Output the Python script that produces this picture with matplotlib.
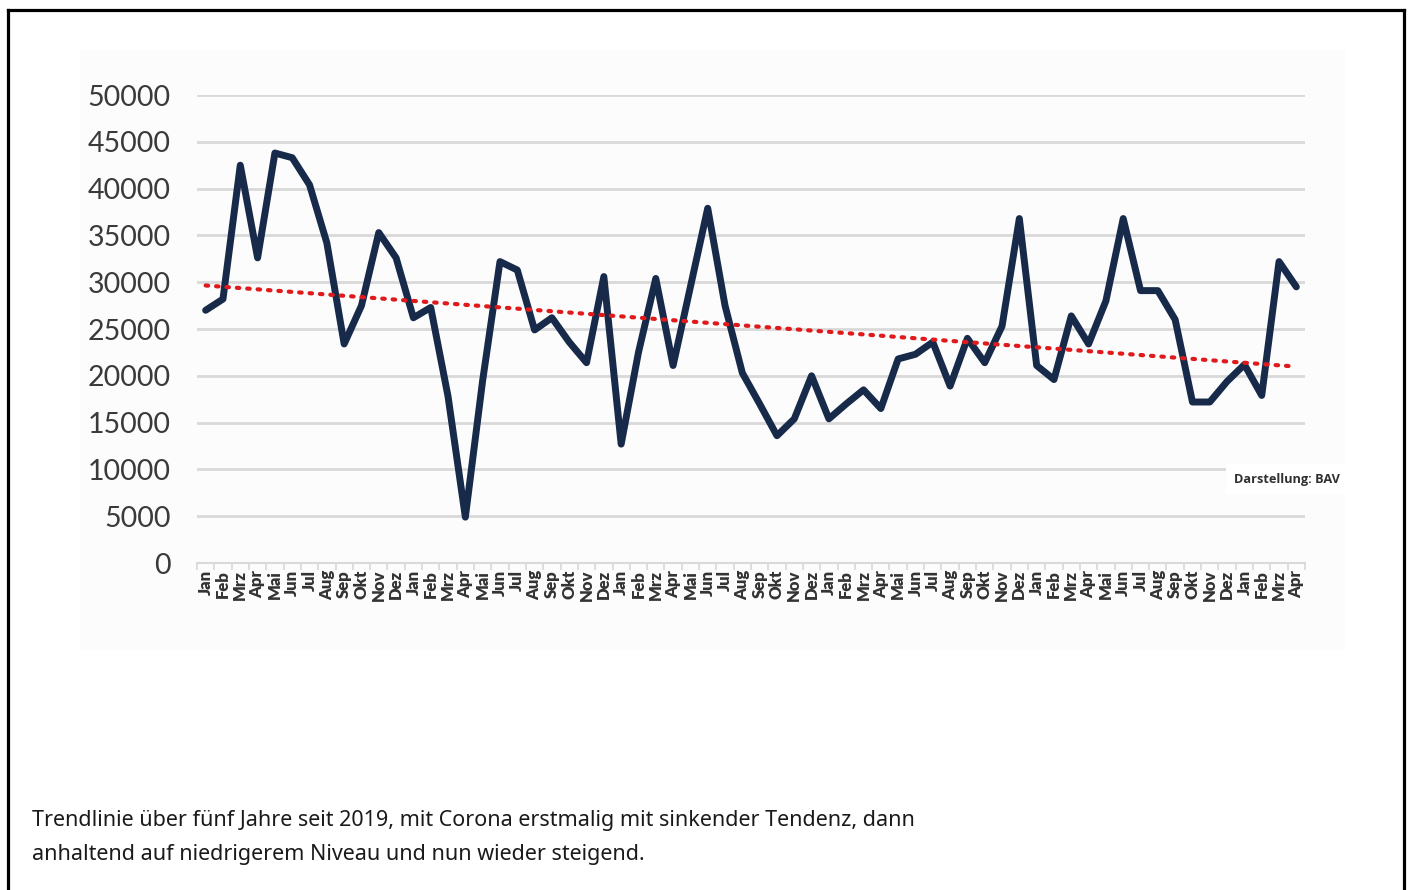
import numpy as np
import matplotlib
matplotlib.use("Agg")
import matplotlib.pyplot as plt
from matplotlib.lines import Line2D
from matplotlib.patches import Rectangle

# ---- data ----
months = ["Jan", "Feb", "Mrz", "Apr", "Mai", "Jun", "Jul", "Aug", "Sep", "Okt", "Nov", "Dez"]
labels = months * 5 + months[:4]

v2019 = [27000, 28200, 42500, 32600, 43800, 43300, 40400, 34200, 23400, 27500, 35300, 32600]
v2020 = [26200, 27300, 17800, 4900, 19500, 32200, 31300, 24900, 26200, 23600, 21400, 30600]
v2021 = [12700, 22500, 30400, 21100, 29500, 37900, 27500, 20300, 17000, 13600, 15400, 20000]
v2022 = [15400, 17000, 18500, 16500, 21800, 22300, 23600, 18900, 24000, 21400, 25300, 36800]
v2023 = [21100, 19600, 26400, 23400, 28000, 36800, 29100, 29100, 26000, 17200, 17200, 19400]
v2024 = [21200, 17900, 32200, 29500]
values = v2019 + v2020 + v2021 + v2022 + v2023 + v2024

yticks = [0, 5000, 10000, 15000, 20000, 25000, 30000, 35000, 40000, 45000, 50000]
caption1 = "Trendlinie über fünf Jahre seit 2019, mit Corona erstmalig mit sinkender Tendenz, dann"
caption2 = "anhaltend auf niedrigerem Niveau und nun wieder steigend."
source = "Darstellung: BAV"

# ---- figure ----
W, H = 1412, 890
fig = plt.figure(figsize=(W / 100, H / 100), dpi=100)
fig.patch.set_facecolor("white")

# faint chart image background
fig.patches.append(Rectangle((80 / W, 1 - 650 / H), (1345 - 80) / W, (650 - 50) / H,
                             transform=fig.transFigure, facecolor="#fcfcfc",
                             edgecolor="none", zorder=-5))

# frame (left, top, right)
bw = 2.3
for xs, ys in [([7.5, 7.5], [9.5, 890]), ([7.5, 1403.5], [9.5, 9.5]), ([1403.5, 1403.5], [9.5, 890])]:
    fig.add_artist(Line2D([x / W for x in xs], [1 - y / H for y in ys],
                          transform=fig.transFigure, color="black", lw=bw,
                          solid_capstyle="projecting", zorder=-4))

left, right, top, bottom = 197, 1305, 95, 563
ax = fig.add_axes([left / W, 1 - bottom / H, (right - left) / W, (bottom - top) / H])
ax.set_facecolor("none")
ax.set_zorder(2)

x = np.arange(len(values))
ax.set_xlim(-0.5, len(values) - 0.5)
ax.set_ylim(0, 50000)

# gridlines
ax.set_yticks(yticks)
ax.yaxis.grid(True, color="#d9d9d9", lw=2.0)
ax.set_axisbelow(True)
ax.tick_params(axis="y", length=0, pad=19, labelsize=20.5, labelcolor="#3a3a3a")
for lab in ax.get_yticklabels():
    lab.set_fontfamily("Lato")

for s in ["top", "right", "left"]:
    ax.spines[s].set_visible(False)
ax.spines["bottom"].set_color("#d9d9d9")
ax.spines["bottom"].set_linewidth(1.5)

# x ticks: minor tick marks between categories, labels at centers
ax.set_xticks(x)
ax.set_xticklabels(labels, rotation=90, fontsize=12, fontweight="heavy",
                   color="#333333", fontfamily="Lato", va="top", ha="center")
ax.tick_params(axis="x", length=0, pad=5)
ax.set_xticks(np.arange(-0.5, len(values), 1), minor=True)
ax.tick_params(axis="x", which="minor", length=5, color="#d9d9d9", width=1.2)

# main line
ax.plot(x, values, color="#172a4a", lw=5.0, solid_joinstyle="round",
        solid_capstyle="round", zorder=3)

# linear trend line
coef = np.polyfit(x, values, 1)
trend = np.polyval(coef, x)
ax.plot(x, trend, color="#e0191b", lw=3.0, linestyle=(0, (0.6, 1.9)),
        dash_capstyle="round", zorder=4)

# source note
ax.text(1287 / W, 1 - 479 / H, source, transform=fig.transFigure, ha="center", va="center",
        fontsize=9.2, fontweight="bold", color="#303030", fontfamily="Open Sans",
        bbox=dict(facecolor="white", edgecolor="none", pad=6), zorder=6)

# caption
for txt, yb in [(caption1, 826), (caption2, 860)]:
    fig.text(32 / W, 1 - yb / H, txt, ha="left", va="baseline", fontsize=15.5,
             color="#1a1a1a", fontfamily="Noto Sans")

fig.savefig("out.png", dpi=100, facecolor="white")
